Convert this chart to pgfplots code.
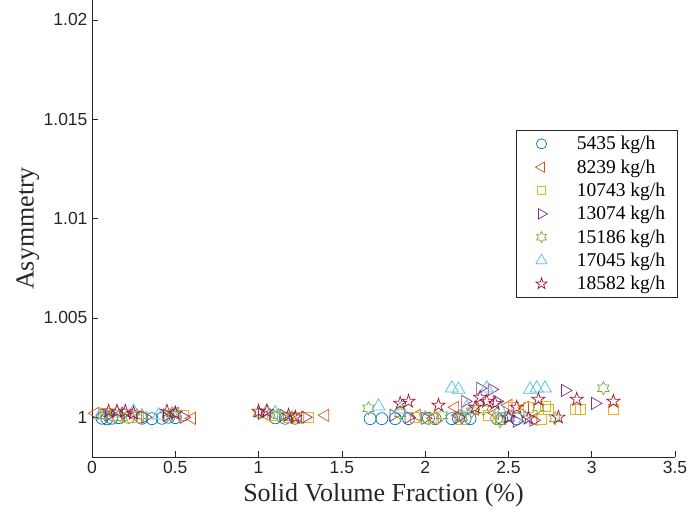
\documentclass[border=0pt]{standalone}
\usepackage{fontspec}
\setmainfont{Liberation Serif}
\newfontfamily\arialf{Liberation Sans}
\usepackage{pgfplots}
\pgfplotsset{compat=1.18}
\definecolor{c1}{RGB}{0,114,189}
\definecolor{c2}{RGB}{217,83,25}
\definecolor{c3}{RGB}{237,177,32}
\definecolor{c4}{RGB}{126,47,142}
\definecolor{c5}{RGB}{119,172,48}
\definecolor{c6}{RGB}{77,190,238}
\definecolor{c7}{RGB}{162,20,47}
\definecolor{axgray}{RGB}{38,38,38}
\pgfdeclareplotmark{pentagram}{%
  \pgfpathmoveto{\pgfpointpolar{90}{\pgfplotmarksize}}%
  \pgfpathlineto{\pgfpointpolar{126}{0.382\pgfplotmarksize}}%
  \pgfpathlineto{\pgfpointpolar{162}{\pgfplotmarksize}}%
  \pgfpathlineto{\pgfpointpolar{198}{0.382\pgfplotmarksize}}%
  \pgfpathlineto{\pgfpointpolar{234}{\pgfplotmarksize}}%
  \pgfpathlineto{\pgfpointpolar{270}{0.382\pgfplotmarksize}}%
  \pgfpathlineto{\pgfpointpolar{306}{\pgfplotmarksize}}%
  \pgfpathlineto{\pgfpointpolar{342}{0.382\pgfplotmarksize}}%
  \pgfpathlineto{\pgfpointpolar{18}{\pgfplotmarksize}}%
  \pgfpathlineto{\pgfpointpolar{54}{0.382\pgfplotmarksize}}%
  \pgfpathclose\pgfusepathqstroke}
\pgfdeclareplotmark{hexagram}{%
  \pgfpathmoveto{\pgfpointpolar{90}{\pgfplotmarksize}}%
  \pgfpathlineto{\pgfpointpolar{120}{0.577\pgfplotmarksize}}%
  \pgfpathlineto{\pgfpointpolar{150}{\pgfplotmarksize}}%
  \pgfpathlineto{\pgfpointpolar{180}{0.577\pgfplotmarksize}}%
  \pgfpathlineto{\pgfpointpolar{210}{\pgfplotmarksize}}%
  \pgfpathlineto{\pgfpointpolar{240}{0.577\pgfplotmarksize}}%
  \pgfpathlineto{\pgfpointpolar{270}{\pgfplotmarksize}}%
  \pgfpathlineto{\pgfpointpolar{300}{0.577\pgfplotmarksize}}%
  \pgfpathlineto{\pgfpointpolar{330}{\pgfplotmarksize}}%
  \pgfpathlineto{\pgfpointpolar{0}{0.577\pgfplotmarksize}}%
  \pgfpathlineto{\pgfpointpolar{30}{\pgfplotmarksize}}%
  \pgfpathlineto{\pgfpointpolar{60}{0.577\pgfplotmarksize}}%
  \pgfpathclose\pgfusepathqstroke}
\begin{document}
\begin{tikzpicture}
\begin{axis}[
  scale only axis,
  width=583pt, height=457pt,
  xmin=0, xmax=3.5, ymin=0.998, ymax=1.021,
  axis x line*=bottom, axis y line*=left,
  axis line style={axgray, line width=0.6pt},
  tick style={axgray, line width=0.6pt},
  tick align=inside, major tick length=6pt,
  xtick={0,0.5,1,1.5,2,2.5,3,3.5},
  xticklabels={0,0.5,1,1.5,2,2.5,3,3.5},
  ytick={1,1.005,1.01,1.015,1.02},
  yticklabels={1,1.005,1.01,1.015,1.02},
  ticklabel style={font=\arialf\fontsize{17.5}{20}\selectfont, text=axgray},
  xticklabel style={yshift=-1pt},
  yticklabel style={xshift=-1pt},
  xlabel={Solid Volume Fraction (\%)},
  ylabel={Asymmetry},
  label style={font=\fontsize{26}{31}\selectfont, text=axgray},
  xlabel style={at={(axis description cs:0.5,-0.083)}, anchor=center},
  ylabel style={at={(axis description cs:-0.11,0.5)}, anchor=center, rotate=0},
  legend cell align=left,
  legend style={at={(rel axis cs:0.727,0.7155)}, anchor=north west,
    draw=axgray, line width=0.6pt, font=\fontsize{19.5}{23.5}\selectfont,
    inner xsep=10pt, inner ysep=4pt, row sep=4.3pt},
  legend image code/.code={\path (0pt,-4pt) (48pt,4pt); \draw[#1, mark size=0.85*\pgfplotmarksize] plot coordinates {(15pt,0pt)};},
  every axis plot/.append style={only marks, line width=0.7pt},
  clip=false,
]
\addplot[c1, mark=o, mark size=6pt] coordinates {
(0.06,0.99995) (0.09,0.99992) (0.12,0.99995) (0.16,0.99998) (0.22,1.0) (0.30,0.99995) (0.36,0.99993) (0.42,0.99995) (0.46,1.0) (0.50,0.99998)
(1.10,0.99997) (1.16,0.99995) (1.22,0.99995)
(1.67,0.99993) (1.74,0.99993) (1.82,0.99993) (1.90,0.99993) (2.02,0.99995) (2.06,0.99993) (2.16,0.99993) (2.20,0.99993) (2.24,0.99993) (2.27,0.99993) (2.43,0.99995) (2.46,0.99993) (2.55,0.99992)
};
\addlegendentry{5435 kg/h}
\addplot[c2, mark=triangle, mark size=7pt, mark options={rotate=90}] coordinates {
(0.02,1.0002) (0.10,1.0001) (0.25,1.0001) (0.50,1.0002) (0.60,0.99995)
(1.05,1.0001) (1.25,1.0) (1.40,1.0001)
(1.95,1.0001) (2.05,0.99995) (2.18,1.0005) (2.20,1.0001) (2.30,1.0004) (2.42,1.0002) (2.50,1.0006) (2.60,1.0005) (2.65,0.9999)
};
\addlegendentry{8239 kg/h}
\addplot[c3, mark=square, mark size=5pt] coordinates {
(0.08,1.0002) (0.15,1.0001) (0.22,1.0) (0.28,1.0) (0.45,1.0001) (0.55,1.0001)
(1.08,1.0001) (1.18,1.0) (1.24,1.0) (1.30,1.0)
(1.94,1.0) (2.05,0.99995) (2.22,0.9999) (2.38,1.0001) (2.45,1.0) (2.53,1.0005) (2.62,1.0005) (2.70,0.9999) (2.72,1.00055) (2.74,1.0004) (2.90,1.0004) (2.93,1.0004) (3.13,1.0004)
};
\addlegendentry{10743 kg/h}
\addplot[c4, mark=triangle, mark size=7pt, mark options={rotate=-90}] coordinates {
(0.10,1.0001) (0.20,1.0002) (0.32,1.0) (0.45,1.0001) (0.55,1.0)
(1.02,1.0002) (1.15,1.0001) (1.28,1.0)
(1.81,1.0001) (1.90,1.0) (2.00,0.99995) (2.20,1.0) (2.24,1.0008) (2.33,1.00146) (2.40,1.0014) (2.43,1.0008) (2.50,1.0) (2.55,0.9998) (2.65,0.99985) (2.84,1.00135) (3.02,1.0007)
};
\addlegendentry{13074 kg/h}
\addplot[c5, mark=hexagram, mark size=6.5pt] coordinates {
(0.08,1.0001) (0.18,1.0) (0.30,1.0001) (0.48,1.0002)
(1.00,1.0002) (1.12,1.0001) (1.20,1.0)
(1.66,1.00045) (1.85,1.0002) (2.00,1.0) (2.10,1.0001) (2.22,1.0) (2.28,1.0003) (2.35,1.0004) (2.45,0.9998) (2.68,1.0005) (2.78,0.99995) (3.07,1.00146)
};
\addlegendentry{15186 kg/h}
\addplot[c6, mark=triangle, mark size=7.5pt] coordinates {
(0.05,1.0001) (0.15,1.0002) (0.25,1.0003) (0.40,1.0001) (0.50,1.0002)
(1.05,1.0003) (1.10,1.0002)
(1.72,1.00055) (1.85,1.0004) (2.16,1.00146) (2.20,1.0014) (2.25,1.0005) (2.37,1.00146) (2.45,1.0004) (2.63,1.0014) (2.67,1.00146) (2.72,1.00146) (2.50,1.0) (2.60,0.9999)
};
\addlegendentry{17045 kg/h}
\addplot[c7, mark=pentagram, mark size=7pt] coordinates {
(0.10,1.0003) (0.15,1.0003) (0.20,1.0003) (0.25,1.0002) (0.45,1.0003) (0.50,1.0002)
(1.00,1.0003) (1.05,1.0003) (1.18,1.0001) (1.22,1.0)
(1.85,1.0007) (1.90,1.0008) (2.08,1.0006) (2.30,1.0005) (2.33,1.001) (2.37,1.0008) (2.42,1.0007) (2.50,1.0) (2.55,1.0005) (2.62,0.99995) (2.68,1.0009) (2.80,1.0) (2.91,1.0009) (3.13,1.0008)
};
\addlegendentry{18582 kg/h}
\end{axis}
\pgfresetboundingbox
\path (-92pt,-60pt) rectangle (604pt,457pt);
\end{tikzpicture}
\end{document}
